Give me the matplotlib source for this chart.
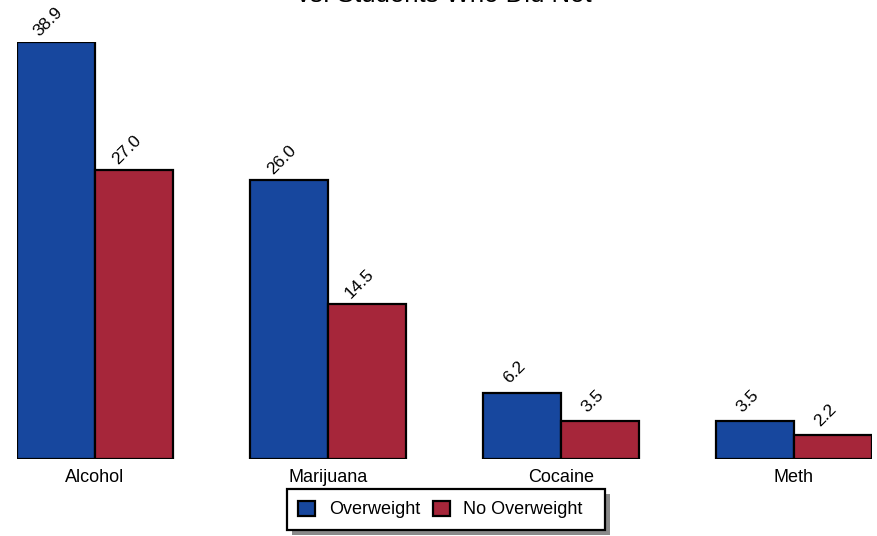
import matplotlib
matplotlib.use("Agg")
import matplotlib.pyplot as plt
from matplotlib.patches import Rectangle
from matplotlib.transforms import offset_copy
import numpy as np

plt.rcParams['font.family'] = ['Liberation Sans', 'DejaVu Sans']

categories = ["Alcohol", "Marijuana", "Cocaine", "Meth"]
overweight = [38.9, 26.0, 6.2, 3.5]
no_overweight = [27.0, 14.5, 3.5, 2.2]
series_names = ["Overweight", "No Overweight"]
title_line = "vs. Students Who Did Not"

blue = "#17479E"
red = "#A6263A"

W, H = 878, 536
fig = plt.figure(figsize=(W / 100, H / 100), dpi=100)
ax = fig.add_axes([17 / W, 1 - 459 / H, (872 - 17) / W, (459 - 42) / H])

x = np.arange(len(categories))
bw = 0.335
b1 = ax.bar(x - bw / 2, overweight, bw, color=blue, edgecolor='black', linewidth=1.6, zorder=3)
b2 = ax.bar(x + bw / 2, no_overweight, bw, color=red, edgecolor='black', linewidth=1.6, zorder=3)

ax.set_xlim(-bw, len(categories) - 1 + bw)
ax.set_ylim(0, max(overweight))
for s in ax.spines.values():
    s.set_visible(False)
ax.set_yticks([])
ax.set_xticks(x)
ax.set_xticklabels(categories, fontsize=13)
ax.tick_params(axis='x', length=0, pad=7)

for bars, vals in ((b1, overweight), (b2, no_overweight)):
    for rect, v in zip(bars, vals):
        cx = rect.get_x() + rect.get_width() / 2
        tr = offset_copy(ax.transData, fig=fig, x=-7.5 * 0.72, y=20 * 0.72, units='points')
        ax.text(cx, v, f"{v:.1f}", transform=tr, rotation=45, rotation_mode='anchor',
                ha='center', va='center', fontsize=12.5, clip_on=False)

fig.text((17 + 872) / 2 / W, 1 - 2 / H, title_line, ha='center', va='baseline', fontsize=18.5)

leg = fig.legend([b1, b2], series_names, loc='center left', ncol=2,
                 bbox_to_anchor=(298 / W, 1 - 509.5 / H), fontsize=13,
                 frameon=False,
                 handlelength=0.95, handleheight=0.95, handletextpad=0.75,
                 columnspacing=0.7, borderpad=0, borderaxespad=0)
for h in leg.legend_handles:
    h.set_linewidth(1.6)

# legend frame and drop shadow
fx0, fx1, fy0, fy1 = 287, 605, 489, 530
shadow = Rectangle(((fx0 + 5) / W, 1 - (fy1 + 5) / H), (fx1 - fx0) / W, (fy1 - fy0) / H,
                   transform=fig.transFigure, facecolor='#8a8a8a', edgecolor='none', zorder=3)
frame = Rectangle((fx0 / W, 1 - fy1 / H), (fx1 - fx0) / W, (fy1 - fy0) / H,
                  transform=fig.transFigure, facecolor='white', edgecolor='black',
                  linewidth=1.6, zorder=4)
fig.patches.extend([shadow, frame])
leg.set_zorder(6)

fig.savefig("out.png", dpi=100)
